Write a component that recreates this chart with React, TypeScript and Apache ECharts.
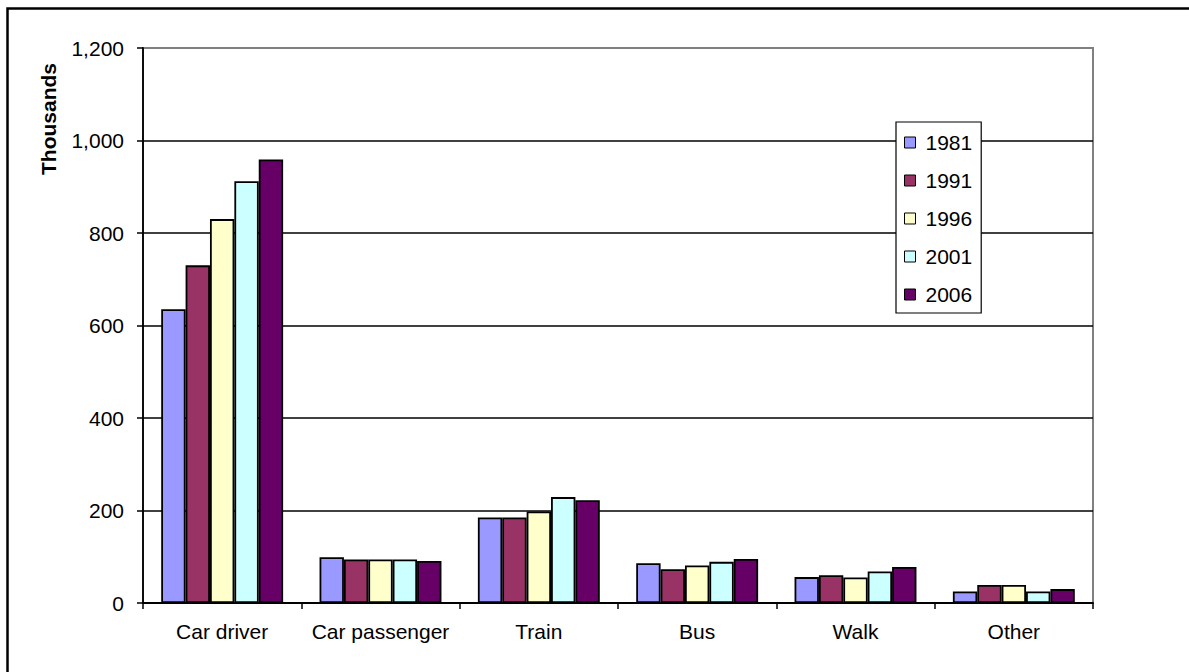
import React, { useEffect, useRef } from "react";
import * as echarts from "echarts";

// Travel mode categories and commuter counts (thousands) by census year
const categories = ["Car driver", "Car passenger", "Train", "Bus", "Walk", "Other"];
const years = ["1981", "1991", "1996", "2001", "2006"];
const y1981 = [635, 99, 185, 86, 56, 25];
const y1991 = [730, 94, 185, 73, 60, 39];
const y1996 = [830, 94, 198, 81, 55, 39];
const y2001 = [912, 94, 229, 89, 68, 25];
const y2006 = [959, 91, 222, 95, 78, 30];
const yTicks = { min: 0, max: 1200, interval: 200 };

const seriesValues = [y1981, y1991, y1996, y2001, y2006];
const colors = ["#9999FF", "#993366", "#FFFFCC", "#CCFFFF", "#660066"];
const FONT = "'Liberation Sans', Arial, sans-serif";

export default function App() {
  const ref = useRef<HTMLDivElement>(null);

  useEffect(() => {
    document.body.style.margin = "0";
    if (!ref.current) return;
    const chart = echarts.init(ref.current, undefined, { renderer: "svg" });
    const splitColors = ["#000", "#000", "#000", "#000", "#000", "#000", "#808080"];

    chart.setOption({
      animation: false,
      backgroundColor: "#fff",
      textStyle: { fontFamily: FONT },
      grid: {
        left: 143,
        top: 48,
        width: 950,
        height: 555,
        show: true,
        borderColor: "#808080",
        borderWidth: 2,
        containLabel: false,
      },
      legend: {
        orient: "vertical",
        left: 896,
        top: 122,
        data: years,
        icon: "rect",
        itemWidth: 11,
        itemHeight: 11,
        itemGap: 17,
        padding: [10, 9, 8, 8],
        backgroundColor: "#fff",
        borderColor: "#000",
        borderWidth: 1.2,
        itemStyle: { borderColor: "#000", borderWidth: 1 },
        textStyle: {
          fontFamily: FONT,
          fontSize: 21,
          lineHeight: 21,
          color: "#000",
          padding: [0, 0, 0, 5],
        },
      },
      xAxis: {
        type: "category",
        data: categories,
        axisLine: { lineStyle: { color: "#000", width: 1.8 } },
        axisTick: { show: true, length: 6, lineStyle: { color: "#000", width: 1.5 } },
        axisLabel: { color: "#000", fontSize: 21, fontFamily: FONT, margin: 18, interval: 0 },
        splitLine: { show: false },
      },
      yAxis: {
        type: "value",
        min: yTicks.min,
        max: yTicks.max,
        interval: yTicks.interval,
        axisLine: { show: true, lineStyle: { color: "#000", width: 1.8 } },
        axisTick: { show: true, length: 6, lineStyle: { color: "#000", width: 1.5 } },
        axisLabel: {
          color: "#000",
          fontSize: 21,
          fontFamily: FONT,
          margin: 19,
          formatter: (v: number) => v.toLocaleString("en-US"),
        },
        splitLine: { show: true, lineStyle: { color: splitColors, width: 1.5 } },
      },
      series: years.map((y, i) => ({
        name: y,
        type: "bar",
        data: seriesValues[i],
        barGap: "0%",
        barCategoryGap: "23%",
        itemStyle: { color: colors[i], borderColor: "#000", borderWidth: 1.8 },
      })),
      graphic: [
        {
          type: "rect",
          left: 5,
          top: 6,
          shape: { width: 1200, height: 700 },
          style: { fill: "none", stroke: "#000", lineWidth: 2.5 },
          silent: true,
          z: -1,
        },
        {
          type: "text",
          x: 48,
          y: 119,
          rotation: Math.PI / 2,
          style: {
            text: "Thousands",
            fontFamily: FONT,
            fontSize: 21,
            fontWeight: "bold",
            fill: "#000",
            align: "center",
            verticalAlign: "middle",
          },
        },
      ],
    });

    return () => chart.dispose();
  }, []);

  return <div ref={ref} style={{ width: 1189, height: 672 }} />;
}
